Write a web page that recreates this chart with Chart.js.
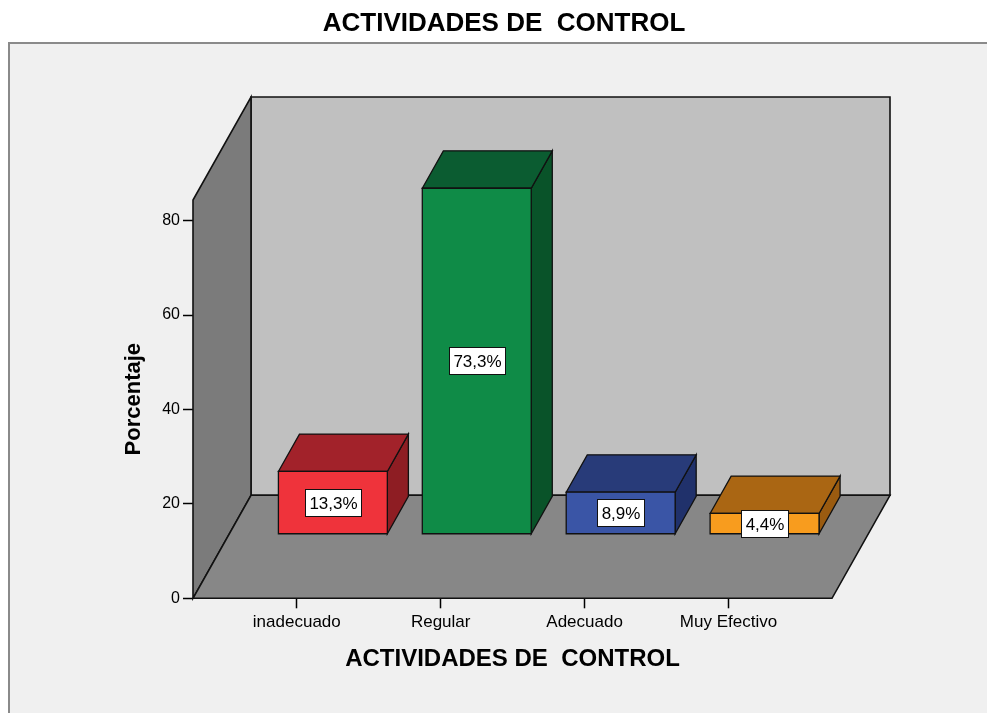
<!DOCTYPE html>
<html><head><meta charset="utf-8">
<script src="https://cdn.jsdelivr.net/npm/chart.js@4.4.1/dist/chart.umd.min.js"></script>
<style>html,body{margin:0;padding:0;background:#fff}#wrap{width:987px;height:713px;position:relative}</style>
</head><body><div id="wrap"><canvas id="c"></canvas></div>
<script>
const categories = ['inadecuado', 'Regular', 'Adecuado', 'Muy Efectivo'];
const percentages = [13.3, 73.3, 8.9, 4.4];
const valueLabels = ['13,3%', '73,3%', '8,9%', '4,4%'];
const yTicks = [0, 20, 40, 60, 80];
const frontColors = ['#ef333b', '#0f8b47', '#3a55a6', '#f89c1e'];
const topColors = ['#a2222a', '#0b5c31', '#283b79', '#aa6613'];
const sideColors = ['#8e1d23', '#095329', '#20316b', '#9a5b10'];

Chart.defaults.font.family = '"Liberation Sans", Arial, sans-serif';

const WALL = {dx: 58, dy: -103};
const BAR_FRONT = 0.622, BAR_DEPTH = 0.363;

function poly(ctx, pts, fill, stroke, lw) {
  ctx.beginPath();
  ctx.moveTo(pts[0][0], pts[0][1]);
  for (let i = 1; i < pts.length; i++) ctx.lineTo(pts[i][0], pts[i][1]);
  ctx.closePath();
  if (fill) { ctx.fillStyle = fill; ctx.fill(); }
  if (stroke) { ctx.strokeStyle = stroke; ctx.lineWidth = lw; ctx.lineJoin = 'miter'; ctx.stroke(); }
}

const scenePlugin = {
  id: 'scene',
  beforeDraw(chart) {
    const ctx = chart.ctx;
    ctx.save();
    ctx.fillStyle = '#ffffff';
    ctx.fillRect(0, 0, chart.width, chart.height);
    ctx.fillStyle = '#f0f0f0';
    ctx.fillRect(8, 43, chart.width, chart.height);
    ctx.strokeStyle = '#8a8a8a';
    ctx.lineWidth = 2;
    ctx.beginPath();
    ctx.moveTo(9, chart.height + 5);
    ctx.lineTo(9, 43);
    ctx.lineTo(chart.width + 5, 43);
    ctx.stroke();
    ctx.restore();
  },
  beforeDatasetsDraw(chart) {
    const ctx = chart.ctx;
    const {left: L, right: R, top: T, bottom: B} = chart.chartArea;
    const dx = WALL.dx, dy = WALL.dy;
    ctx.save();
    poly(ctx, [[L + dx, T + dy], [R + dx, T + dy], [R + dx, B + dy], [L + dx, B + dy]], '#c0c0c0', '#111', 1.6);
    poly(ctx, [[L, B], [L, T], [L + dx, T + dy], [L + dx, B + dy]], '#7b7b7b', '#111', 1.6);
    poly(ctx, [[L, B], [L + dx, B + dy], [R + dx, B + dy], [R, B]], '#878787', '#111', 1.6);
    ctx.restore();
  },
  afterDatasetsDraw(chart) {
    const ctx = chart.ctx;
    const meta = chart.getDatasetMeta(0);
    const fx = WALL.dx * BAR_FRONT, fy = WALL.dy * BAR_FRONT;
    const bx = WALL.dx * BAR_DEPTH, by = WALL.dy * BAR_DEPTH;
    ctx.save();
    meta.data.forEach((el, i) => {
      const p = el.getProps(['x', 'y', 'base', 'width'], true);
      const x0 = p.x - p.width / 2 + fx, x1 = p.x + p.width / 2 + fx;
      const y0 = p.y + fy, y1 = p.base + fy;
      poly(ctx, [[x1, y1], [x1, y0], [x1 + bx, y0 + by], [x1 + bx, y1 + by]], sideColors[i], '#111', 1.3);
      poly(ctx, [[x0, y0], [x0 + bx, y0 + by], [x1 + bx, y0 + by], [x1, y0]], topColors[i], '#111', 1.3);
      poly(ctx, [[x0, y0], [x1, y0], [x1, y1], [x0, y1]], frontColors[i], '#111', 1.3);
    });
    meta.data.forEach((el, i) => {
      const p = el.getProps(['x', 'y', 'base', 'width'], true);
      const cx = p.x + fx;
      const cy = (p.y + p.base) / 2 + fy;
      ctx.font = '17px "Liberation Sans", Arial, sans-serif';
      const tw = ctx.measureText(valueLabels[i]).width;
      const bw = Math.round(tw + 8), bh = 27;
      const bxl = Math.round(cx - bw / 2) + 0.5, byt = Math.round(cy - bh / 2) + 0.5;
      ctx.fillStyle = '#ffffff';
      ctx.fillRect(bxl, byt, bw, bh);
      ctx.strokeStyle = '#111';
      ctx.lineWidth = 1;
      ctx.strokeRect(bxl, byt, bw, bh);
      ctx.fillStyle = '#000';
      ctx.textAlign = 'center';
      ctx.textBaseline = 'middle';
      ctx.fillText(valueLabels[i], bxl + bw / 2, byt + bh / 2 + 1);
    });
    ctx.restore();
  }
};

new Chart(document.getElementById('c'), {
  type: 'bar',
  data: {
    datasets: [{
      data: categories.map((c, i) => ({x: i, y: percentages[i]})),
      backgroundColor: 'rgba(0,0,0,0)',
      borderWidth: 0,
      barPercentage: 0.757,
      categoryPercentage: 1
    }]
  },
  options: {
    responsive: true,
    maintainAspectRatio: false,
    animation: false,
    layout: {padding: {left: 21, right: 0, top: 0, bottom: 0}},
    plugins: {
      legend: {display: false},
      tooltip: {enabled: false},
      title: {
        display: true, text: 'ACTIVIDADES DE  CONTROL', color: '#000',
        font: {size: 26, weight: 'bold'}, padding: {top: 8, bottom: 160.8}
      }
    },
    scales: {
      x: {
        type: 'linear', min: -0.7213, max: 3.7193, offset: false,
        afterBuildTicks: s => { s.ticks = categories.map((c, i) => ({value: i})); },
        ticks: {callback: v => categories[v], color: '#000', font: {size: 17}, padding: 4, maxRotation: 0, autoSkip: false},
        grid: {offset: false, drawOnChartArea: false, drawTicks: true, tickLength: 10, tickColor: '#000', tickWidth: 1.5},
        border: {display: false},
        title: {display: true, text: 'ACTIVIDADES DE  CONTROL', color: '#000', font: {size: 24, weight: 'bold'}, padding: {top: 0, bottom: 39.6}},
        afterFit: s => { s.height = 114.7; }
      },
      y: {
        min: 0, max: 84.38,
        afterBuildTicks: s => { s.ticks = yTicks.map(v => ({value: v})); },
        ticks: {color: '#000', font: {size: 16}, padding: 3},
        grid: {drawOnChartArea: false, drawTicks: true, tickLength: 10, tickColor: '#000', tickWidth: 1.5},
        border: {display: false},
        title: {display: true, text: 'Porcentaje', color: '#000', font: {size: 22, weight: 'bold'}, padding: {top: 99.8, bottom: 0}},
        afterFit: s => { s.width = 172; }
      },
      yRight: {
        position: 'right', display: true,
        ticks: {display: false}, grid: {display: false}, border: {display: false},
        afterFit: s => { s.width = 155; }
      }
    }
  },
  plugins: [scenePlugin]
});
</script>
</body></html>
